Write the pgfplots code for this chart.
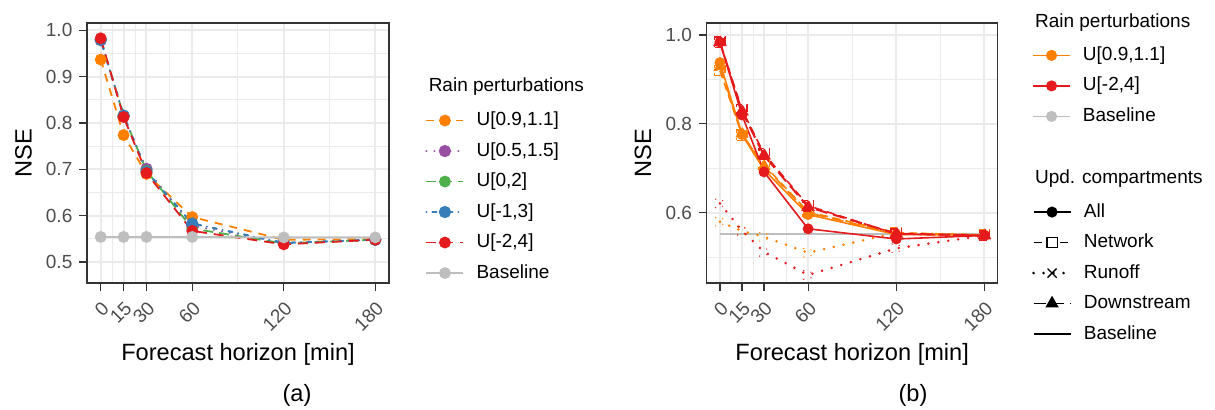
\documentclass[border=0pt]{standalone}
\usepackage{fontspec}
\setmainfont{Liberation Sans}
\usepackage{pgfplots}
\pgfplotsset{compat=1.18}

\definecolor{cOrange}{HTML}{FF7F00}
\definecolor{cPurple}{HTML}{984EA3}
\definecolor{cGreen}{HTML}{4DAF4A}
\definecolor{cBlue}{HTML}{377EB8}
\definecolor{cRed}{HTML}{E41A1C}
\definecolor{cBase}{HTML}{BEBEBE}
\definecolor{gridmaj}{HTML}{EBEBEB}
\definecolor{tickgray}{HTML}{4D4D4D}
\definecolor{framegray}{HTML}{333333}

\pgfplotsset{
  legstyle/.style={
    legend style={draw=none, fill=none, anchor=north west, inner sep=0pt,
      font=\fontsize{9.5}{11}\selectfont, row sep=6.25pt,
      nodes={inner sep=0pt, text height=7pt, text depth=2pt},
      /tikz/every odd column/.append style={column sep=6pt}},
    legend cell align=left,
    legend image code/.code={\draw[mark repeat=2,mark phase=2]
      plot coordinates {(0pt,0pt) (9.25pt,0pt) (18.5pt,0pt)};},
  },
  nsebase/.style={
    scale only axis, height=130pt,
    xmin=-9, xmax=189,
    xtick={0,15,30,60,120,180},
    minor xtick={7.5,22.5,45,90,150},
    grid=both,
    major grid style={draw=gridmaj, line width=1pt},
    minor grid style={draw=gridmaj, line width=0.5pt},
    axis line style={draw=framegray, line width=0.6pt},
    tick align=outside, major tick length=3.8pt, minor tick length=0pt,
    xtick pos=bottom, ytick pos=left,
    tick style={draw=framegray, line width=0.6pt},
    ticklabel style={font=\fontsize{9.5}{11}\selectfont, text=tickgray},
    x tick label style={rotate=45, anchor=north east},
    yticklabel style={/pgf/number format/.cd, fixed, fixed zerofill, precision=1},
    /pgf/number format/assume math mode=true,
    label style={font=\fontsize{11.8}{14}\selectfont},
    xlabel={Forecast horizon [min]}, ylabel={NSE},
    xlabel style={at={(axis description cs:0.5,-0.273)}, anchor=center},
    legstyle,
  },
  pa/.style={line width=0.9pt, mark=*, mark size=2.5pt,
    mark options={solid, draw=none, fill=#1}, draw=#1},
  pb/.style={line width=0.8pt, draw=#1, mark options={solid, draw=#1}},
}

\pgfplotstableread{
x   o     p     g     b     r     base
0   0.937 0.979 0.980 0.980 0.983 0.554
15  0.774 0.815 0.816 0.816 0.813 0.554
30  0.690 0.701 0.697 0.695 0.692 0.554
60  0.597 0.578 0.572 0.583 0.567 0.554
120 0.548 0.541 0.540 0.541 0.538 0.553
180 0.549 0.548 0.548 0.548 0.548 0.553
}\dataA

\pgfplotstableread{
x   oAll  oNet  oRun  oDown rAll  rNet  rRun  rDown base
0   0.938 0.920 0.580 0.928 0.984 0.984 0.621 0.984 0.553
15  0.776 0.775 0.559 0.778 0.820 0.832 0.560 0.828 0.553
30  0.697 0.708 0.546 0.705 0.692 0.733 0.512 0.729 0.553
60  0.596 0.602 0.510 0.600 0.564 0.616 0.460 0.613 0.553
120 0.551 0.555 0.555 0.553 0.541 0.552 0.520 0.553 0.553
180 0.550 0.550 0.550 0.550 0.549 0.549 0.549 0.549 0.553
}\dataB

\begin{document}
\begin{tikzpicture}
\useasboundingbox (0,0) rectangle (607.5pt,204.5pt);

% (a)
\begin{axis}[nsebase, at={(43.5pt,63pt)}, anchor=south west, width=151pt,
  ymin=0.4545, ymax=1.016,
  ytick={0.5,0.6,0.7,0.8,0.9,1.0}, minor ytick={0.45,0.55,0.65,0.75,0.85,0.95},
  ylabel style={at={(axis description cs:-0.21,0.5)}, anchor=center},
  legend style={at={(1.119,0.661)}}]
\addplot[pa=cOrange, dash pattern=on 4pt off 3.5pt] table[x=x, y=o] {\dataA};
\addplot[pa=cPurple, line cap=round, line width=1.1pt, dash pattern=on 0pt off 4pt] table[x=x, y=p] {\dataA};
\addplot[pa=cGreen, dash pattern=on 5pt off 3pt] table[x=x, y=g] {\dataA};
\addplot[pa=cBlue, line cap=round, line width=1.1pt, dash pattern=on 0pt off 3pt on 2pt off 3pt] table[x=x, y=b] {\dataA};
\addplot[pa=cRed, dash pattern=on 5pt off 3.5pt] table[x=x, y=r] {\dataA};
\addplot[pa=cBase, solid] table[x=x, y=base] {\dataA};
\legend{{U[0.9,1.1]}, {U[0.5,1.5]}, {U[0,2]}, {U[-1,3]}, {U[-2,4]}, Baseline}
\end{axis}

% (b)
\begin{axis}[nsebase, at={(353.35pt,63pt)}, anchor=south west, width=145.5pt,
  ymin=0.442, ymax=1.027,
  ytick={0.6,0.8,1.0}, minor ytick={0.5,0.7,0.9},
  ylabel style={at={(axis description cs:-0.219,0.5)}, anchor=center},
  legend style={at={(1.117,0.9115)}}]
\addplot[forget plot, draw=cBase, line width=1.1pt, no markers] table[x=x, y=base] {\dataB};
\addplot[forget plot, pb=cOrange, solid, mark=*, mark size=2.3pt, mark options={fill=cOrange}] table[x=x, y=oAll] {\dataB};
\addplot[forget plot, pb=cOrange, dash pattern=on 4pt off 2.5pt, mark=square, mark size=2.6pt, mark options={line width=0.7pt}] table[x=x, y=oNet] {\dataB};
\addplot[forget plot, pb=cOrange, line cap=round, line width=1.4pt, dash pattern=on 0pt off 5pt, mark=x, mark size=3pt, mark options={line width=0.7pt}] table[x=x, y=oRun] {\dataB};
\addplot[forget plot, pb=cOrange, dash pattern=on 6pt off 3pt, mark=triangle*, mark size=3pt, mark options={fill=cOrange}] table[x=x, y=oDown] {\dataB};
\addplot[forget plot, pb=cRed, solid, mark=*, mark size=2.3pt, mark options={fill=cRed}] table[x=x, y=rAll] {\dataB};
\addplot[forget plot, pb=cRed, dash pattern=on 4pt off 2.5pt, mark=square, mark size=2.6pt, mark options={line width=0.7pt}] table[x=x, y=rNet] {\dataB};
\addplot[forget plot, pb=cRed, line cap=round, line width=1.4pt, dash pattern=on 0pt off 5pt, mark=x, mark size=3pt, mark options={line width=0.7pt}] table[x=x, y=rRun] {\dataB};
\addplot[forget plot, pb=cRed, line width=1pt, dash pattern=on 6pt off 3pt, mark=triangle*, mark size=3pt, mark options={fill=cRed}] table[x=x, y=rDown] {\dataB};
\addlegendimage{draw=cOrange, line width=0.9pt, mark=*, mark size=2.3pt, mark options={fill=cOrange}}
\addlegendentry{U[0.9,1.1]}
\addlegendimage{draw=cRed, line width=0.9pt, mark=*, mark size=2.3pt, mark options={fill=cRed}}
\addlegendentry{U[-2,4]}
\addlegendimage{draw=cBase, line width=0.9pt, mark=*, mark size=2.3pt, mark options={fill=cBase}}
\addlegendentry{Baseline}
\end{axis}

% (b) second legend
\begin{axis}[at={(353.35pt,63pt)}, anchor=south west, scale only axis,
  width=145.5pt, height=130pt, hide axis, xmin=0, xmax=1, ymin=0, ymax=1,
  legstyle, legend style={at={(1.117,0.309)}}]
\addlegendimage{black, line width=0.9pt, mark=*, mark size=2.3pt}
\addlegendentry{All}
\addlegendimage{black, line width=0.9pt, dash pattern=on 4pt off 2.5pt, mark=square*, mark size=2.6pt, mark options={solid, fill=white, line width=0.7pt}}
\addlegendentry{Network}
\addlegendimage{black, line width=1.4pt, line cap=round, dash pattern=on 0pt off 5pt, mark=x, mark size=3pt, mark options={solid, line width=0.7pt}}
\addlegendentry{Runoff}
\addlegendimage{black, line width=0.9pt, dash pattern=on 6pt off 3pt, mark=triangle*, mark size=3pt, mark options={solid}}
\addlegendentry{Downstream}
\addlegendimage{black, line width=0.9pt, no markers}
\addlegendentry{Baseline}
\end{axis}

\node[anchor=base west, font=\fontsize{9.5}{11}\selectfont] at (210.85pt,158.6pt) {Rain perturbations};
\node[anchor=base west, font=\fontsize{9.5}{11}\selectfont] at (514pt,191pt) {Rain perturbations};
\node[anchor=base west, font=\fontsize{9.5}{11}\selectfont] at (514pt,112.75pt) {Upd. compartments};
\node[font=\fontsize{11.8}{14}\selectfont] at (148.5pt,7pt) {(a)};
\node[font=\fontsize{11.8}{14}\selectfont] at (456.5pt,7pt) {(b)};
\end{tikzpicture}
\end{document}
